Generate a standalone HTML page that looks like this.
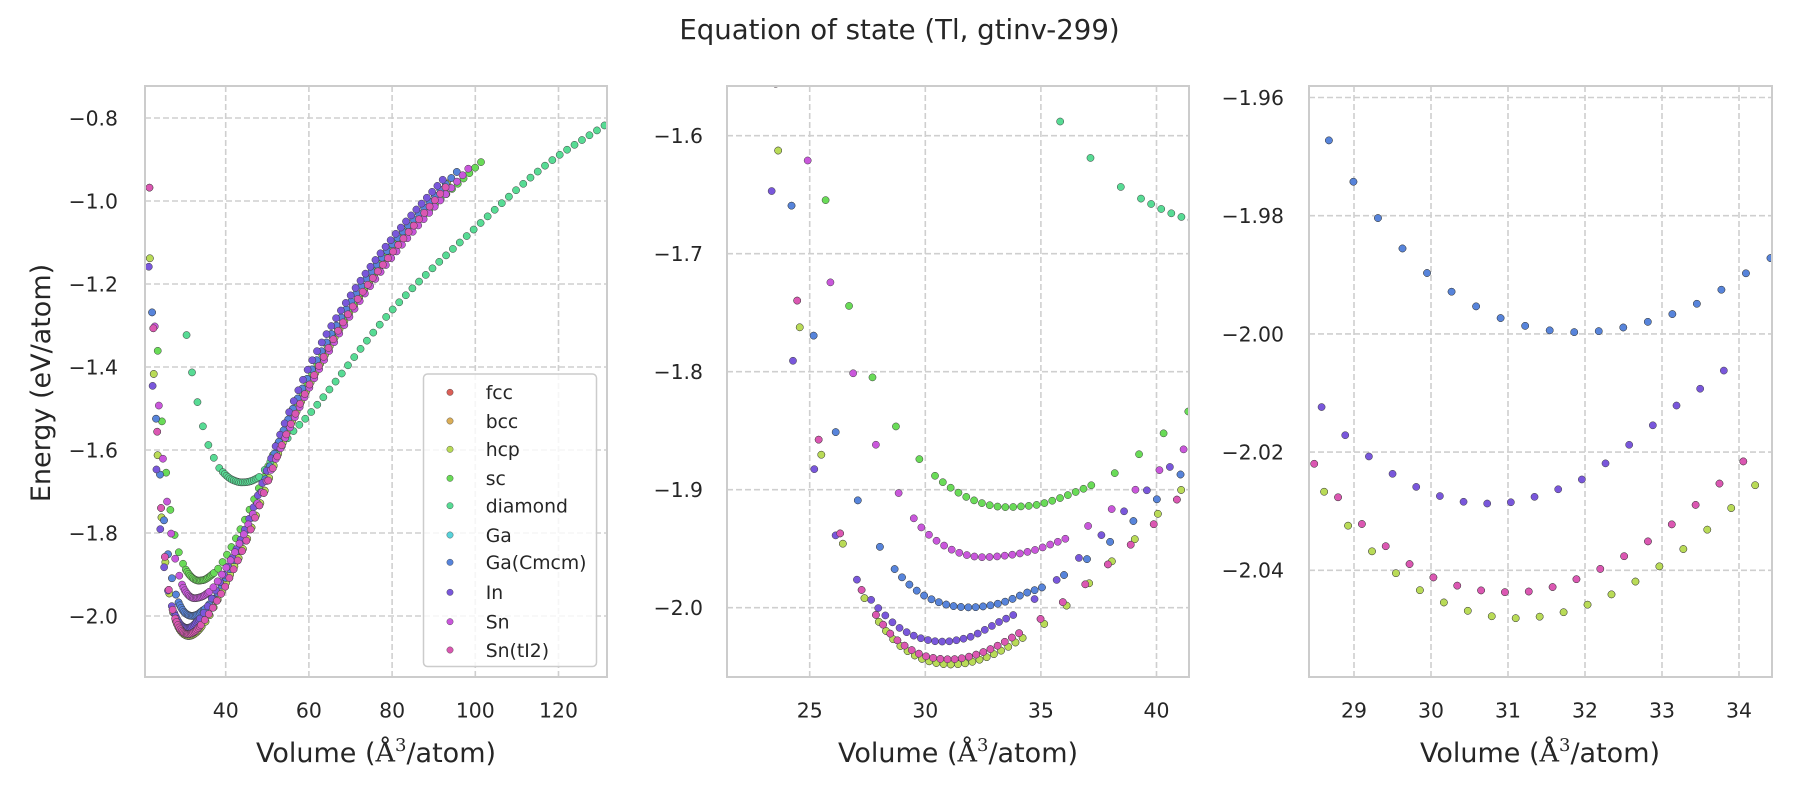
<!DOCTYPE html>
<html><head><meta charset="utf-8"><style>
html,body{margin:0;padding:0;background:#fff;}
svg{display:block;font-family:"DejaVu Sans","Liberation Sans",sans-serif;}
</style></head><body>
<svg id="s" width="1800" height="800" viewBox="0 0 1800 800" xmlns="http://www.w3.org/2000/svg">
<rect width="1800" height="800" fill="#fff"/>
<defs>
<clipPath id="c0"><rect x="145" y="86" width="462" height="591"/></clipPath>
<clipPath id="c1"><rect x="727" y="86" width="462" height="591"/></clipPath>
<clipPath id="c2"><rect x="1309" y="86" width="463" height="591"/></clipPath>
</defs>
<g id="grid"></g>
<g id="pts0" clip-path="url(#c0)"></g>
<g id="pts1" clip-path="url(#c1)"></g>
<g id="pts2" clip-path="url(#c2)"></g>
<g id="frames" fill="none" stroke="#cccccc" stroke-width="2">
<rect x="145" y="86" width="462" height="591"/>
<rect x="727" y="86" width="462" height="591"/>
<rect x="1309" y="86" width="463" height="591"/>
</g>
<g id="labels" fill="#262626"></g>
<text x="899.5" y="39" font-size="27.6" text-anchor="middle" fill="#262626">Equation of state (Tl, gtinv-299)</text>
<text transform="translate(50,383) rotate(-90)" font-size="27" text-anchor="middle" fill="#262626">Energy (eV/atom)</text>
<text x="376" y="762" font-size="27" text-anchor="middle" fill="#262626">Volume (<tspan font-family="DejaVu Serif, Liberation Serif, serif">Å</tspan><tspan font-family="DejaVu Serif, Liberation Serif, serif" font-size="18" dy="-11">3</tspan><tspan dy="11">/atom)</tspan></text>
<text x="958" y="762" font-size="27" text-anchor="middle" fill="#262626">Volume (<tspan font-family="DejaVu Serif, Liberation Serif, serif">Å</tspan><tspan font-family="DejaVu Serif, Liberation Serif, serif" font-size="18" dy="-11">3</tspan><tspan dy="11">/atom)</tspan></text>
<text x="1540" y="762" font-size="27" text-anchor="middle" fill="#262626">Volume (<tspan font-family="DejaVu Serif, Liberation Serif, serif">Å</tspan><tspan font-family="DejaVu Serif, Liberation Serif, serif" font-size="18" dy="-11">3</tspan><tspan dy="11">/atom)</tspan></text>
<g id="legend"></g>
</svg>
<script>
(function(){
var NS="http://www.w3.org/2000/svg";
function el(tag,attrs,parent,txt){var e=document.createElementNS(NS,tag);for(var k in attrs)e.setAttribute(k,attrs[k]);if(txt!==undefined)e.textContent=txt;parent.appendChild(e);return e;}
var P=[
{x0:145,x1:607,y0:86,y1:677,fx:function(V){return 225.7+(V-40)*4.16},fy:function(E){return 118+(-0.8-E)*415},
 xt:[40,60,80,100,120],yt:[-0.8,-1.0,-1.2,-1.4,-1.6,-1.8,-2.0],yd:1,ylx:118},
{x0:727,x1:1189,y0:86,y1:677,fx:function(V){return 925.3+(V-30)*23.12},fy:function(E){return 607.7-(E+2)*1180},
 xt:[25,30,35,40],yt:[-1.6,-1.7,-1.8,-1.9,-2.0],yd:1,ylx:703},
{x0:1309,x1:1772,y0:86,y1:677,fx:function(V){return 1431+(V-30)*77},fy:function(E){return 570.3-(E+2.04)*5910},
 xt:[29,30,31,32,33,34],yt:[-1.96,-1.98,-2.00,-2.02,-2.04],yd:2,ylx:1284}
];
var grid=document.getElementById('grid'),lab=document.getElementById('labels');
P.forEach(function(p){
 p.xt.forEach(function(v){var x=p.fx(v);
  el('line',{x1:x,x2:x,y1:p.y0,y2:p.y1,stroke:'#cfcfcf','stroke-width':1.6,'stroke-dasharray':'6,3'},grid);
  el('text',{x:x,y:717.5,'font-size':20.4,'text-anchor':'middle'},lab,String(v));});
 p.yt.forEach(function(v){var y=p.fy(v);
  el('line',{x1:p.x0,x2:p.x1,y1:y,y2:y,stroke:'#cfcfcf','stroke-width':1.6,'stroke-dasharray':'6,3'},grid);
  el('text',{x:p.ylx,y:y+7.4,'font-size':20.4,'text-anchor':'end'},lab,'\u2212'+Math.abs(v).toFixed(p.yd));});
});
function mono(pts){
 var n=pts.length,xs=pts.map(function(a){return a[0]}),ys=pts.map(function(a){return a[1]}),d=[],m=[];
 for(var i=0;i<n-1;i++)d.push((ys[i+1]-ys[i])/(xs[i+1]-xs[i]));
 m[0]=d[0];m[n-1]=d[n-2];
 for(i=1;i<n-1;i++)m[i]=(d[i-1]*d[i]<=0)?0:(d[i-1]+d[i])/2;
 for(i=0;i<n-1;i++){if(d[i]===0){m[i]=0;m[i+1]=0;continue;}var a=m[i]/d[i],b=m[i+1]/d[i],s=a*a+b*b;if(s>9){var t=3/Math.sqrt(s);m[i]=t*a*d[i];m[i+1]=t*b*d[i];}}
 return function(x){
  if(x<=xs[0])return ys[0]+d[0]*(x-xs[0]);
  if(x>=xs[n-1])return ys[n-1]+d[n-2]*(x-xs[n-1]);
  var k=0;while(xs[k+1]<x)k++;
  var h=xs[k+1]-xs[k],t=(x-xs[k])/h,t2=t*t,t3=t2*t;
  return (2*t3-3*t2+1)*ys[k]+(t3-2*t2+t)*h*m[k]+(-2*t3+3*t2)*ys[k+1]+(t3-t2)*h*m[k+1];
 };
}
var pink=[[21.7,-0.978],[22.63,-1.316],[23.56,-1.563],[24.46,-1.74],[25.41,-1.86],[26.33,-1.938],[27.27,-1.986],[28.48,-2.0219],[28.79,-2.0276],[29.41,-2.0359],[30.03,-2.0412],[30.65,-2.0434],[30.96,-2.0437],[31.26,-2.0436],[31.89,-2.0415],[32.51,-2.0376],[33.13,-2.0322],[33.74,-2.0254],[34.98,-2.0096],[35.94,-1.9954],[36.87,-1.981],[37.8,-1.965],[38.72,-1.9494],[39.67,-1.9333],[40.58,-1.9147],[44.5,-1.83],[53,-1.60],[60,-1.445],[70,-1.263],[80,-1.125],[93,-0.965]];
var hcp=[[21.8,-1.147],[22.7,-1.416],[23.66,-1.617],[24.61,-1.768],[25.56,-1.876],[26.47,-1.948],[27.41,-1.9935],[28.63,-2.0271],[29.25,-2.037],[29.86,-2.0434],[30.49,-2.0469],[31.1,-2.0481],[31.72,-2.0471],[32.34,-2.0441],[32.97,-2.0393],[33.59,-2.0331],[34.21,-2.0256],[35.18,-2.0132],[36.18,-1.997],[37.05,-1.980],[38.0,-1.962],[38.96,-1.944],[39.84,-1.925],[40.78,-1.906],[44.5,-1.83],[53,-1.60],[60,-1.445],[70,-1.265],[80,-1.125],[93.5,-0.955]];
var inn=[[21.5,-1.155],[22.45,-1.45],[23.4,-1.6553],[24.3,-1.7937],[25.2,-1.8827],[26.13,-1.9392],[27.06,-1.9768],[28.58,-2.0124],[29.19,-2.0207],[29.81,-2.0259],[30.42,-2.0284],[30.73,-2.0287],[31.03,-2.0285],[31.65,-2.0263],[31.95,-2.0247],[32.6,-2.0185],[33.2,-2.012],[33.82,-2.006],[34.73,-1.9926],[35.68,-1.9765],[36.6,-1.9587],[37.53,-1.9403],[38.43,-1.9214],[39.38,-1.9045],[44.5,-1.795],[53,-1.565],[60.4,-1.392],[70,-1.228],[80,-1.09],[92.5,-0.945]];
var blue=[[22.29,-1.265],[23.1,-1.493],[24.2,-1.6575],[25.2,-1.7725],[26.15,-1.853],[27.1,-1.910],[28.07,-1.9496],[28.66,-1.9669],[28.99,-1.9742],[29.3,-1.9802],[29.62,-1.9854],[29.94,-1.9896],[30.26,-1.9928],[30.58,-1.9953],[30.9,-1.9973],[31.21,-1.9986],[31.54,-1.9994],[31.86,-1.9997],[32.2,-1.9995],[32.86,-1.9978],[33.5,-1.9946],[34.35,-1.9876],[35.06,-1.9827],[36.05,-1.9717],[36.98,-1.959],[37.92,-1.9454],[38.89,-1.9285],[39.84,-1.9115],[40.78,-1.8926],[44.5,-1.81],[53,-1.575],[60,-1.42],[70,-1.245],[80,-1.105],[96,-0.925]];
var sn=[[22.95,-1.303],[23.93,-1.493],[24.96,-1.6265],[25.95,-1.7292],[26.95,-1.8062],[27.9,-1.8638],[28.9,-1.9048],[29.5,-1.9242],[30.17,-1.9384],[30.87,-1.948],[31.5,-1.9537],[32.15,-1.9567],[32.5,-1.9572],[32.81,-1.957],[33.48,-1.9558],[34.1,-1.954],[34.79,-1.9508],[35.44,-1.9462],[36.1,-1.9412],[37.1,-1.930],[38.05,-1.9166],[39.03,-1.901],[41.3,-1.8635],[44.5,-1.8],[53,-1.60],[60,-1.452],[70,-1.275],[80,-1.135],[98.5,-0.92]];
var sc=[[23.66,-1.361],[24.66,-1.529],[25.65,-1.6506],[26.65,-1.7404],[27.7,-1.804],[28.73,-1.8464],[29.74,-1.874],[30.38,-1.8875],[31.08,-1.8981],[31.73,-1.9057],[32.42,-1.9112],[33.09,-1.9142],[33.6,-1.9148],[34.11,-1.9142],[34.78,-1.913],[35.45,-1.9096],[36.47,-1.9022],[37.14,-1.8966],[38.19,-1.886],[39.18,-1.871],[40.17,-1.8545],[41.2,-1.837],[45,-1.76],[53,-1.575],[60,-1.43],[70,-1.255],[80,-1.115],[101.5,-0.905]];
var dia=[[30.59,-1.323],[31.9,-1.413],[33.2,-1.484],[34.5,-1.542],[35.8,-1.587],[37.2,-1.620],[38.46,-1.6435],[39.34,-1.6534],[40.25,-1.6625],[41.1,-1.669],[42.4,-1.675],[43.7,-1.678],[45.5,-1.6765],[47,-1.671],[48.5,-1.661],[49.5,-1.646],[52.3,-1.607],[55.9,-1.559],[60,-1.515],[80,-1.263],[100,-1.065],[117,-0.913],[131.5,-0.815]];
var S=[
 {n:'fcc',c:'#db5f57',vc:30.96,f:mono(pink)},
 {n:'bcc',c:'#dbae57',vc:31.1,f:mono(hcp)},
 {n:'hcp',c:'#b9db57',vc:31.1,f:mono(hcp)},
 {n:'sc',c:'#69db57',vc:33.8,f:mono(sc)},
 {n:'diamond',c:'#57db94',vc:43.7,f:mono(dia)},
 {n:'Ga',c:'#57d3db',vc:31.86,f:mono(blue)},
 {n:'Ga(Cmcm)',c:'#5784db',vc:31.86,f:mono(blue)},
 {n:'In',c:'#7957db',vc:30.73,f:mono(inn)},
 {n:'Sn',c:'#c957db',vc:32.78,f:mono(sn)},
 {n:'Sn(tI2)',c:'#db57b2',vc:30.96,f:mono(pink)}
];
function vols(vc){var u,a=[];
 for(u=0.88;u>=0.695;u-=0.03)a.push(u*vc);
 for(var i=0;i<=20;i++)a.push((0.9+0.01*i)*vc);
 u=1.13;while(u<=3.005){a.push(u*vc);u+=0.03*Math.pow(u,0.3);}
 return a;}
var G=[document.getElementById('pts0'),document.getElementById('pts1'),document.getElementById('pts2')];
S.forEach(function(s){
 var vs=vols(s.vc);
 P.forEach(function(p,pi){
  var frag=document.createDocumentFragment();
  vs.forEach(function(V){var E=s.f(V),x=p.fx(V),y=p.fy(E);
   if(x<p.x0-6||x>p.x1+6||y<p.y0-6||y>p.y1+6)return;
   var c=document.createElementNS(NS,'circle');
   c.setAttribute('cx',x.toFixed(2));c.setAttribute('cy',y.toFixed(2));c.setAttribute('r',3.6);
   c.setAttribute('fill',s.c);c.setAttribute('stroke','#3c3c3c');c.setAttribute('stroke-width','0.5');
   frag.appendChild(c);});
  G[pi].appendChild(frag);
 });
});
var lg=document.getElementById('legend');
el('rect',{x:423.5,y:374,width:173,height:292.5,rx:4,ry:4,fill:'#ffffff','fill-opacity':0.8,stroke:'#cccccc','stroke-width':1.5},lg);
var ly=[392.3,421,449.3,478.3,505.7,535,562.3,592.3,621.7,650];
S.forEach(function(s,i){
 el('circle',{cx:450,cy:ly[i],r:3.2,fill:s.c,stroke:'#3c3c3c','stroke-width':0.4},lg);
 el('text',{x:485.7,y:ly[i]+6.8,'font-size':18.8,fill:'#262626'},lg,s.n);
});
})();
</script>
</body></html>
